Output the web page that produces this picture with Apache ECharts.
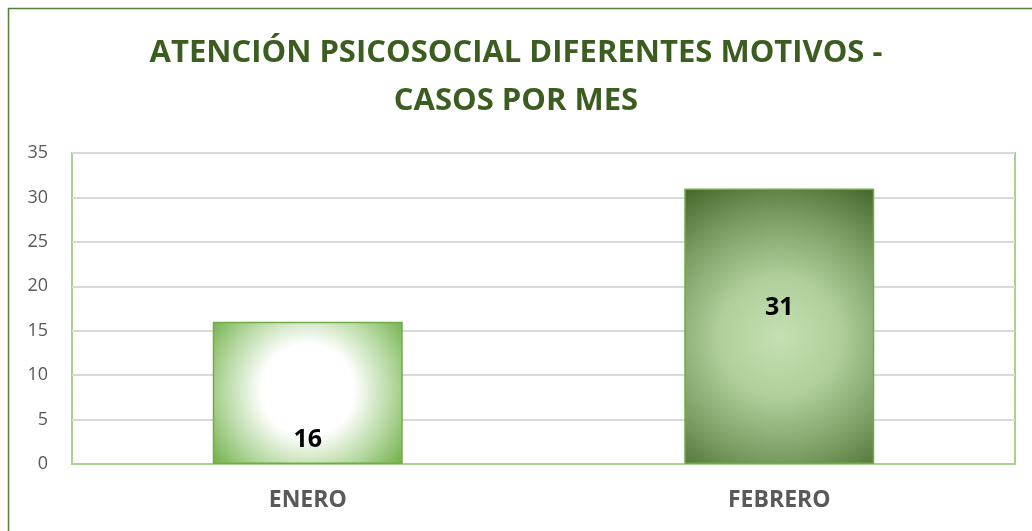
<!DOCTYPE html>
<html><head><meta charset="utf-8">
<script src="https://cdn.jsdelivr.net/npm/echarts@6/dist/echarts.min.js"></script>
<style>html,body{margin:0;padding:0;background:#fff}#c{width:1032px;height:531px}</style>
</head><body><div id="c"></div>
<script>
const titleLines = ['ATENCIÓN PSICOSOCIAL DIFERENTES MOTIVOS -', 'CASOS POR MES'];
const categories = ['ENERO', 'FEBRERO'];
const values = [16, 31];
const yTicks = {min: 0, max: 35, interval: 5};

const chart = echarts.init(document.getElementById('c'));
const grad1 = {type:'radial', x:0.5, y:0.48, r:0.85, colorStops:[
  {offset:0, color:'#ffffff'},{offset:0.38, color:'#ffffff'},{offset:0.7, color:'#b5d8a0'},{offset:1, color:'#70ad47'}]};
const grad2 = {type:'radial', x:0.5, y:0.54, r:0.9, colorStops:[
  {offset:0, color:'#c5e0b3'},{offset:0.35, color:'#b0cf9b'},{offset:0.7, color:'#7c9e64'},{offset:1, color:'#4a6b2e'}]};
chart.setOption({
  animation:false,
  title:{text: titleLines.join('\n'), left:'center', top:24,
    textStyle:{fontFamily:'Open Sans, sans-serif', fontWeight:'bold', fontSize:31, color:'#3b5e20', lineHeight:48}},
  graphic:[{type:'rect', shape:{x:8.5,y:8.5,width:1100,height:600}, style:{fill:'none', stroke:'#548235', lineWidth:1.5}, silent:true}],
  grid:{left:72, right:17, top:153, bottom:67, show:true, borderColor:'#a9d18e', borderWidth:2},
  xAxis:{type:'category', data:categories, axisTick:{show:false},
    axisLine:{lineStyle:{color:'#a9d18e', width:2}},
    axisLabel:{fontFamily:'Open Sans, sans-serif', fontWeight:'bold', fontSize:23, color:'#595959', margin:25}},
  yAxis:{type:'value', min:yTicks.min, max:yTicks.max, interval:yTicks.interval,
    axisLine:{show:false}, axisTick:{show:false},
    axisLabel:{fontFamily:'Open Sans, sans-serif', fontSize:18, color:'#595959', margin:24, align:'right'},
    splitLine:{lineStyle:{color:'#d9d9d9', width:2}}},
  series:[{type:'bar', barWidth:190,
    data:[
      {value:values[0], itemStyle:{color:grad1, borderColor:'#70ad47', borderWidth:1.5},
        label:{show:true, position:'insideBottom', distance:12}},
      {value:values[1], itemStyle:{color:grad2, borderColor:'#70ad47', borderWidth:1.5},
        label:{show:true, position:'inside', offset:[0,-18]}}
    ],
    label:{fontFamily:'Open Sans, sans-serif', fontWeight:'bold', fontSize:25, color:'#000'}}]
});
</script></body></html>
